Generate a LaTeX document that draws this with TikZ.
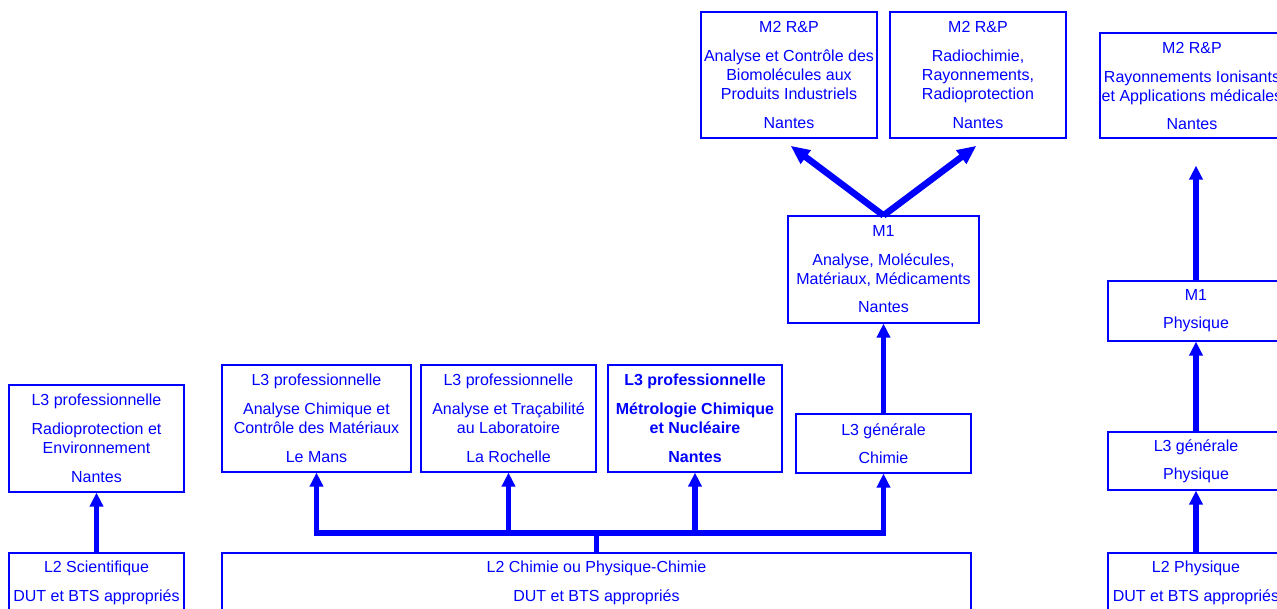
\documentclass[tikz,border=0pt]{standalone}
\usepackage{fontspec}
\setmainfont{Liberation Sans}
\usetikzlibrary{arrows.meta,calc}
\definecolor{bl}{RGB}{0,0,255}
\begin{document}
\begin{tikzpicture}[x=1pt,y=-1pt,
  box/.style={draw=bl, line width=1.1pt, text=bl, align=center, inner sep=0pt,
    font=\fontsize{16}{19}\selectfont},
  flow/.style={draw=bl, line width=5.8pt, -{Triangle[length=14pt,width=13pt]}},
  bigflow/.style={draw=bl, line width=6.5pt, -{Triangle[length=19pt,width=16pt]}},
  bar/.style={draw=bl, line width=5.8pt},
]
\useasboundingbox (0,0) rectangle (1277,608);
\clip (0,0) rectangle (1277,608);
% top row
\node[box, minimum width=176pt, minimum height=126pt] (m2a) at (789,75)
  {M2 R\&P\\[10pt]Analyse et Contrôle des\\Biomolécules aux\\Produits Industriels\\[10pt]Nantes};
\node[box, minimum width=176pt, minimum height=126pt] (m2b) at (978,75)
  {M2 R\&P\\[10pt]Radiochimie,\\Rayonnements,\\Radioprotection\\[10pt]Nantes};
\node[box, minimum width=184pt, minimum height=105pt] (m2c) at (1192,85.5)
  {M2 R\&P\\[10pt]Rayonnements Ionisants\\et Applications médicales\\[9pt]Nantes};
% M1
\node[box, minimum width=191pt, minimum height=107pt] (m1c) at (883.5,269.5)
  {M1\\[10pt]Analyse, Molécules,\\Matériaux, Médicaments\\[9pt]Nantes};
\node[box, minimum width=176pt, minimum height=60pt] (m1p) at (1196,311)
  {M1\\[9pt]Physique};
% L3
\node[box, minimum width=175pt, minimum height=107pt] (p0) at (96.5,438.5)
  {L3 professionnelle\\[10pt]Radioprotection et\\Environnement\\[10pt]Nantes};
\node[box, minimum width=189pt, minimum height=107pt] (p1) at (316.5,418.5)
  {L3 professionnelle\\[10pt]Analyse Chimique et\\Contrôle des Matériaux\\[10pt]Le Mans};
\node[box, minimum width=175pt, minimum height=107pt] (p2) at (508.5,418.5)
  {L3 professionnelle\\[10pt]Analyse et Traçabilité\\au Laboratoire\\[10pt]La Rochelle};
\node[box, minimum width=174pt, minimum height=107pt, font=\fontsize{16}{19}\selectfont\bfseries] (p3) at (695,418.5)
  {L3 professionnelle\\[10pt]Métrologie Chimique\\et Nucléaire\\[10pt]Nantes};
\node[box, minimum width=175pt, minimum height=59pt] (l3c) at (883.5,443.5)
  {L3 générale\\[9pt]Chimie};
\node[box, minimum width=176pt, minimum height=58pt] (l3p) at (1196,461)
  {L3 générale\\[9pt]Physique};
% L2
\node[box, minimum width=175pt, minimum height=59pt] (l2s) at (96.5,582.5)
  {L2 Scientifique\\[10pt]DUT et BTS appropriés};
\node[box, minimum width=749pt, minimum height=59pt] (l2c) at (596.5,582.5)
  {L2 Chimie ou Physique-Chimie\\[10pt]DUT et BTS appropriés};
\node[box, minimum width=176pt, minimum height=59pt] (l2p) at (1196,582.5)
  {L2 Physique\\[10pt]DUT et BTS appropriés};
% connectors
\draw[bigflow, shorten >=12pt] (m1c.north) -- ($(m2a.south)+(-8,0)$);
\draw[bigflow, shorten >=12pt] (m1c.north) -- ($(m2b.south)+(8,0)$);
\draw[flow] (l3c.north) -- (m1c.south);
\draw[flow] (l2s.north) -- (p0.south);
\coordinate (j) at (596.5,533);
\draw[bar] (l2c.north) -- (j);
\draw[bar, line cap=rect] (p1.south |- j) -- (l3c.south |- j);
\draw[flow] (p1.south |- j) -- (p1.south);
\draw[flow] (p2.south |- j) -- (p2.south);
\draw[flow] (p3.south |- j) -- (p3.south);
\draw[flow] (l3c.south |- j) -- (l3c.south);
\draw[flow] (l2p.north) -- (l3p.south);
\draw[flow] (l3p.north) -- (m1p.south);
\draw[flow, shorten >=27pt] (m1p.north) -- (m1p.north |- m2c.south);
\end{tikzpicture}
\end{document}
